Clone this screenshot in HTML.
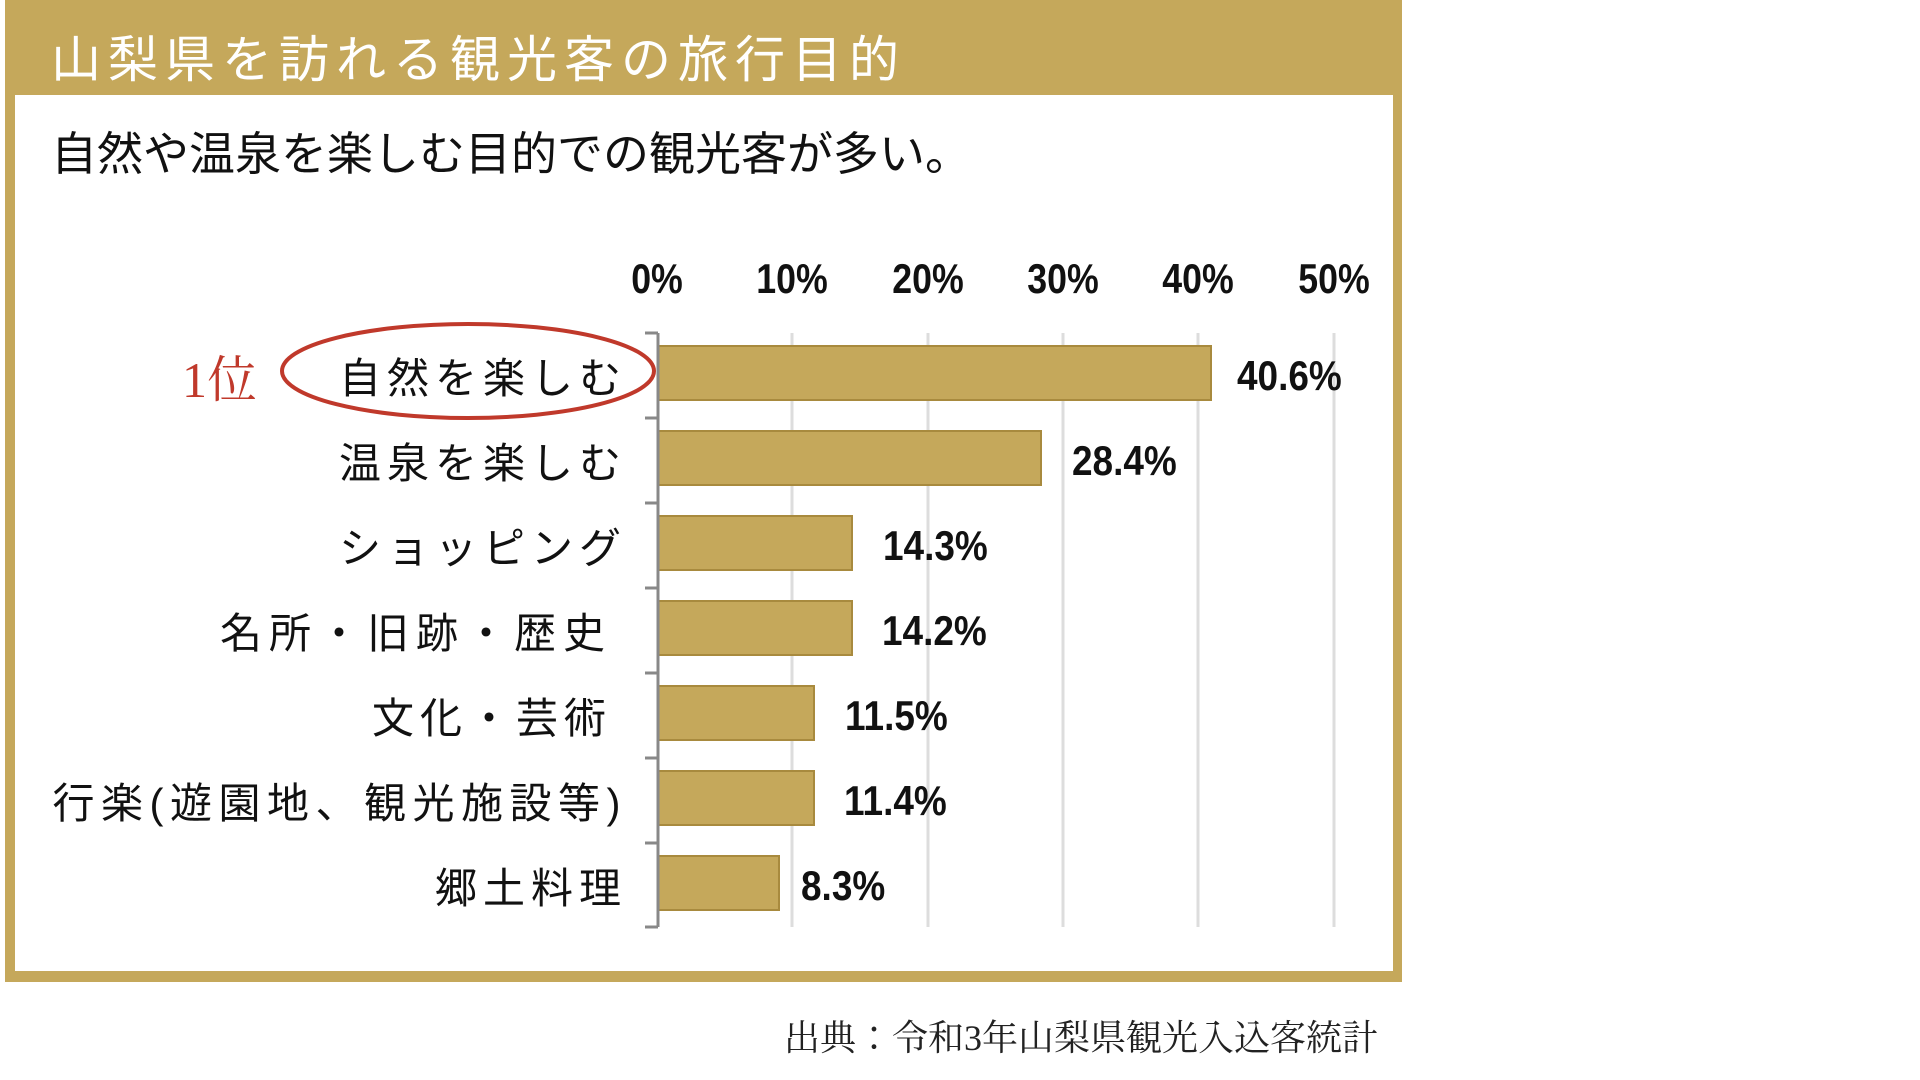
<!DOCTYPE html>
<html><head><meta charset="utf-8"><style>
body{margin:0;width:1920px;height:1080px;background:#fff;overflow:hidden;position:relative;font-family:"Liberation Sans","Noto Sans CJK JP",sans-serif}
.a{position:absolute;white-space:nowrap}
.tick{font-weight:bold;font-size:42px;color:#111;transform:translateX(-50%) scaleX(0.85)}
.val{font-weight:bold;font-size:42px;color:#111;transform:scaleX(0.88);transform-origin:left center}
.cat{font-size:42px;letter-spacing:5px;color:#111;text-align:right;right:1293px}
</style></head><body>
<div class="a" style="left:5px;top:0;width:1397px;height:982px;background:#c5a85b"></div>
<div class="a" style="left:15px;top:95px;width:1378px;height:876px;background:#fff"></div>
<div class="a" style="left:51px;top:20px;font-size:50px;letter-spacing:7px;color:#fff">山梨県を訪れる観光客の旅行目的</div>
<div class="a" style="left:51px;top:118px;font-size:46px;color:#111">自然や温泉を楽しむ目的での観光客が多い。</div>
<svg class="a" style="left:0;top:0" width="1920" height="1080">
<g stroke="#ddd" stroke-width="3">
<line x1="792" y1="333" x2="792" y2="927"/><line x1="928" y1="333" x2="928" y2="927"/>
<line x1="1063" y1="333" x2="1063" y2="927"/><line x1="1198" y1="333" x2="1198" y2="927"/>
<line x1="1334" y1="333" x2="1334" y2="927"/></g>
<g fill="#c5a85b" stroke="#a88a3e" stroke-width="2">
<rect x="658" y="346" width="553" height="54"/>
<rect x="658" y="431" width="383" height="54"/>
<rect x="658" y="516" width="194" height="54"/>
<rect x="658" y="601" width="194" height="54"/>
<rect x="658" y="686" width="156" height="54"/>
<rect x="658" y="771" width="156" height="54"/>
<rect x="658" y="856" width="121" height="54"/>
</g>
<g stroke="#888" stroke-width="3">
<line x1="658" y1="333" x2="658" y2="927"/>
<line x1="645" y1="333" x2="658" y2="333"/><line x1="645" y1="418" x2="658" y2="418"/>
<line x1="645" y1="503" x2="658" y2="503"/><line x1="645" y1="588" x2="658" y2="588"/>
<line x1="645" y1="673" x2="658" y2="673"/><line x1="645" y1="758" x2="658" y2="758"/>
<line x1="645" y1="843" x2="658" y2="843"/><line x1="645" y1="927" x2="658" y2="927"/>
</g>
<ellipse cx="468" cy="371" rx="186" ry="47" fill="none" stroke="#c0392b" stroke-width="4"/>
</svg>
<div class="a tick" style="left:657px;top:255px">0%</div>
<div class="a tick" style="left:792px;top:255px">10%</div>
<div class="a tick" style="left:928px;top:255px">20%</div>
<div class="a tick" style="left:1063px;top:255px">30%</div>
<div class="a tick" style="left:1198px;top:255px">40%</div>
<div class="a tick" style="left:1334px;top:255px">50%</div>
<div class="a val" style="left:1237px;top:352px">40.6%</div>
<div class="a val" style="left:1072px;top:437px">28.4%</div>
<div class="a val" style="left:883px;top:522px">14.3%</div>
<div class="a val" style="left:882px;top:607px">14.2%</div>
<div class="a val" style="left:845px;top:692px">11.5%</div>
<div class="a val" style="left:844px;top:777px">11.4%</div>
<div class="a val" style="left:801px;top:862px">8.3%</div>
<div class="a" style="left:182px;top:340px;font-size:50px;color:#c0392b;font-family:'Liberation Serif','Noto Serif CJK JP',serif">1位</div>
<div class="a cat" style="top:345px;letter-spacing:6px">自然を楽しむ</div>
<div class="a cat" style="top:430px;letter-spacing:6px">温泉を楽しむ</div>
<div class="a cat" style="top:515px;letter-spacing:6px">ショッピング</div>
<div class="a cat" style="top:600px;right:1308px;letter-spacing:7px">名所・旧跡・歴史</div>
<div class="a cat" style="top:685px;right:1308px;letter-spacing:6px">文化・芸術</div>
<div class="a cat" style="top:770px;letter-spacing:6.5px">行楽(遊園地、観光施設等)</div>
<div class="a cat" style="top:855px;letter-spacing:6px">郷土料理</div>
<div class="a" style="left:784px;top:1010px;font-size:36px;color:#222;font-family:'Liberation Serif','Noto Serif CJK JP',serif">出典：令和3年山梨県観光入込客統計</div>
</body></html>
